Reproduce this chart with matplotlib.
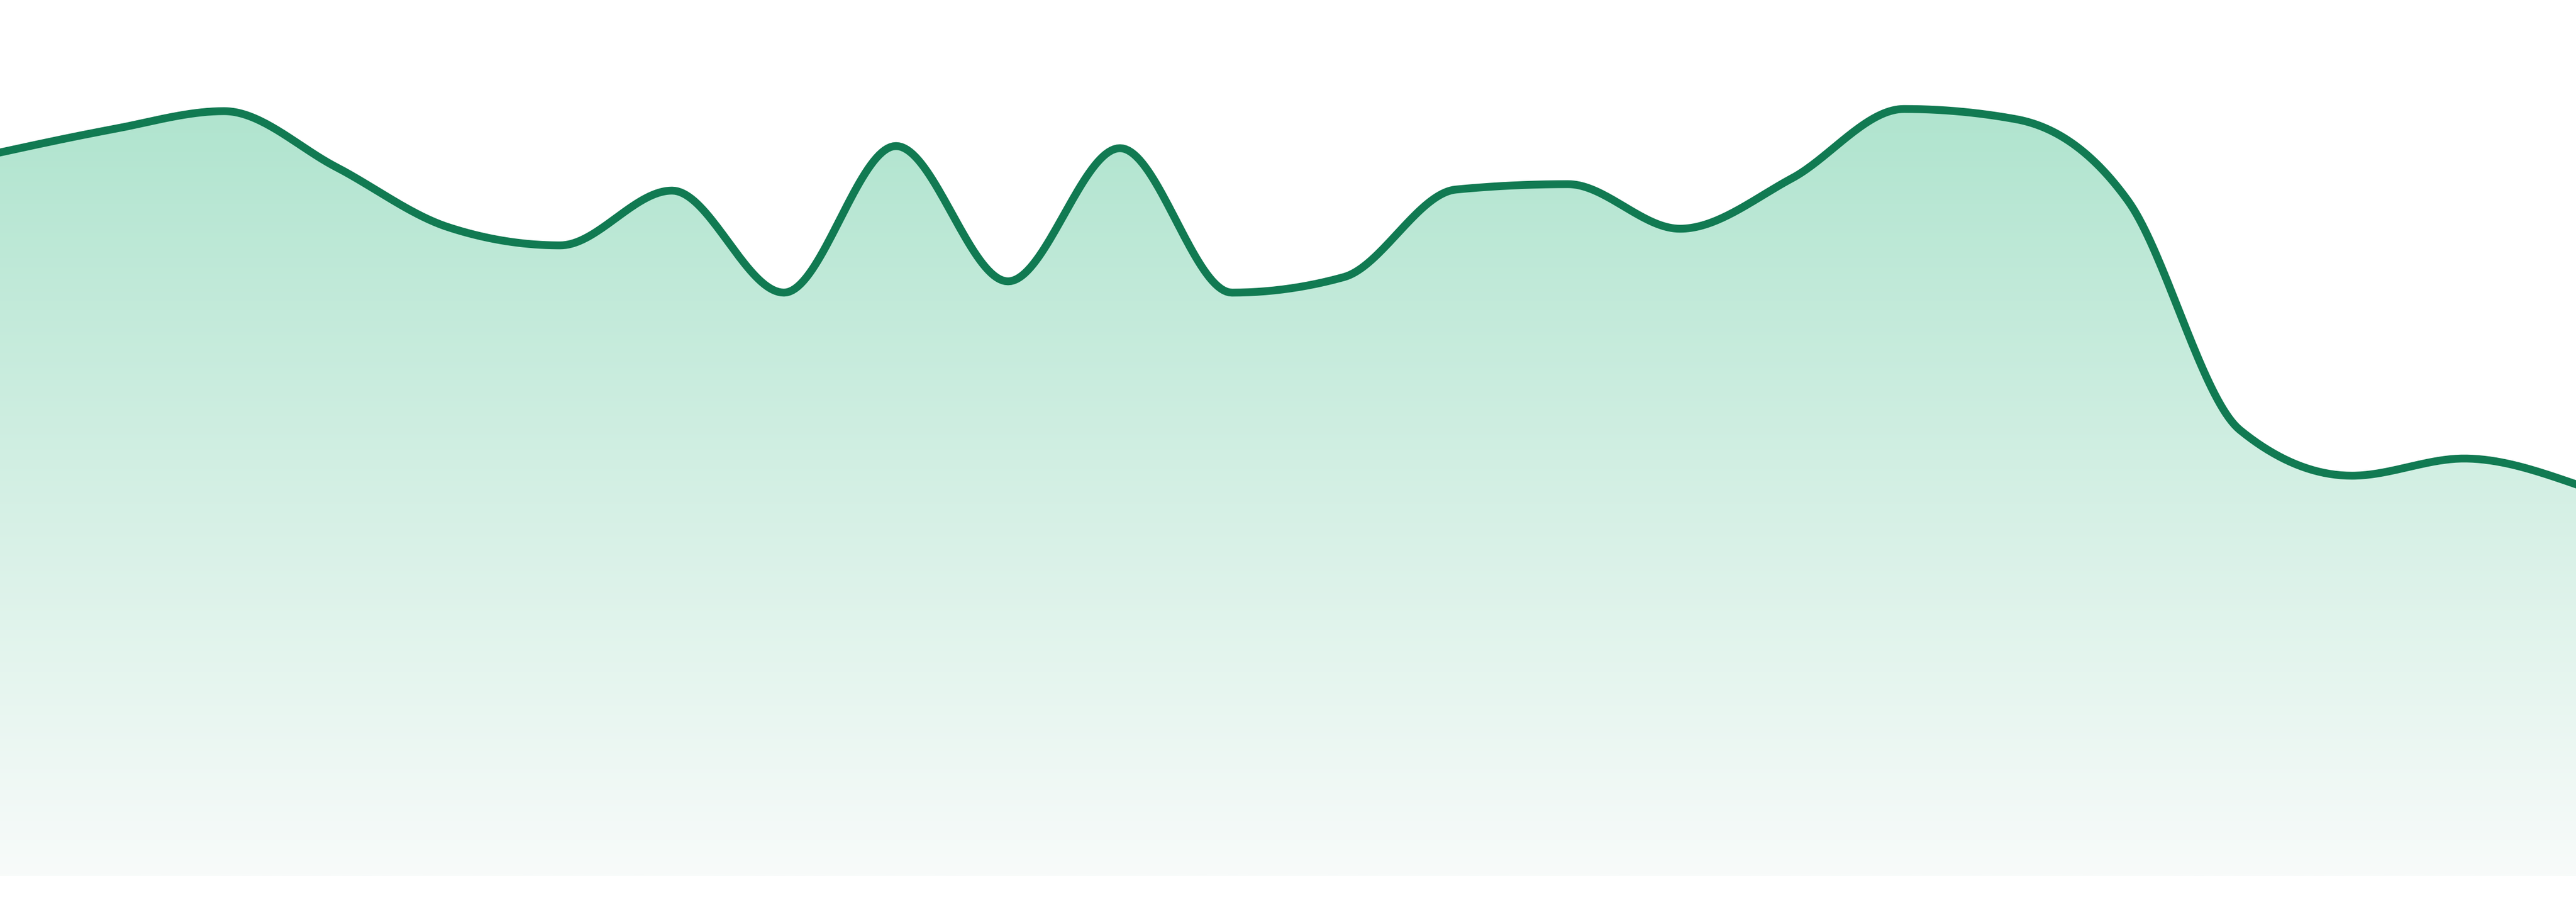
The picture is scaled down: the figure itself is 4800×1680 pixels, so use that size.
import numpy as np
import matplotlib
matplotlib.use("Agg")
import matplotlib.pyplot as plt
from matplotlib.patches import Polygon
from matplotlib.colors import LinearSegmentedColormap

# heights of the 24 points above the baseline
values = [1348, 1391, 1425, 1321, 1209, 1175, 1277, 1087, 1360, 1108, 1356, 1087,
          1116, 1279, 1289, 1206, 1300, 1429, 1410, 1258, 831, 746, 778, 730]
line_color = "#117a52"
fill_top = "#afe4ce"
fill_bottom = "#f8fbfa"


def monotone_slopes(xs, ys):
    # same tangents as d3.curveMonotoneX
    n = len(xs)
    h = np.diff(xs)
    s = np.diff(ys) / h
    t = np.zeros(n)
    for i in range(1, n - 1):
        p = (s[i - 1] * h[i] + s[i] * h[i - 1]) / (h[i - 1] + h[i])
        t[i] = (np.sign(s[i - 1]) + np.sign(s[i])) * min(abs(s[i - 1]), abs(s[i]), 0.5 * abs(p))
    t[0] = (3 * s[0] - t[1]) / 2
    t[-1] = (3 * s[-1] - t[-2]) / 2
    return t


def monotone_curve(xs, ys, steps=40):
    xs = np.asarray(xs, float)
    ys = np.asarray(ys, float)
    t = monotone_slopes(xs, ys)
    outx, outy = [], []
    for i in range(len(xs) - 1):
        h = xs[i + 1] - xs[i]
        u = np.linspace(0, 1, steps, endpoint=(i == len(xs) - 2))
        h00 = 2 * u**3 - 3 * u**2 + 1
        h10 = u**3 - 2 * u**2 + u
        h01 = -2 * u**3 + 3 * u**2
        h11 = u**3 - u**2
        outx.append(xs[i] + u * h)
        outy.append(h00 * ys[i] + h10 * h * t[i] + h01 * ys[i + 1] + h11 * h * t[i + 1])
    return np.concatenate(outx), np.concatenate(outy)


x = np.arange(len(values))
cx, cy = monotone_curve(x, values)

fig = plt.figure(figsize=(16, 5.6), dpi=300)
fig.patch.set_facecolor("white")
ax = fig.add_axes([0, 0, 1, 1])
ax.set_xlim(0, len(values) - 1)
ax.set_ylim(-48, 1632)
ax.axis("off")

# gradient area under the curve
poly = np.column_stack([np.r_[cx, cx[-1], cx[0]], np.r_[cy, 0, 0]])
clip = Polygon(poly, closed=True, facecolor="none", edgecolor="none")
ax.add_patch(clip)
cmap = LinearSegmentedColormap.from_list("grad", [fill_bottom, fill_top])
grad = np.linspace(0, 1, 512).reshape(-1, 1)
img = ax.imshow(grad, cmap=cmap, aspect="auto", origin="lower",
                extent=[0, len(values) - 1, 0, 1452], interpolation="bilinear")
img.set_clip_path(clip)

ax.plot(cx, cy, color=line_color, linewidth=3.5, solid_joinstyle="round")

fig.savefig("out.png", dpi=300, facecolor="white")
